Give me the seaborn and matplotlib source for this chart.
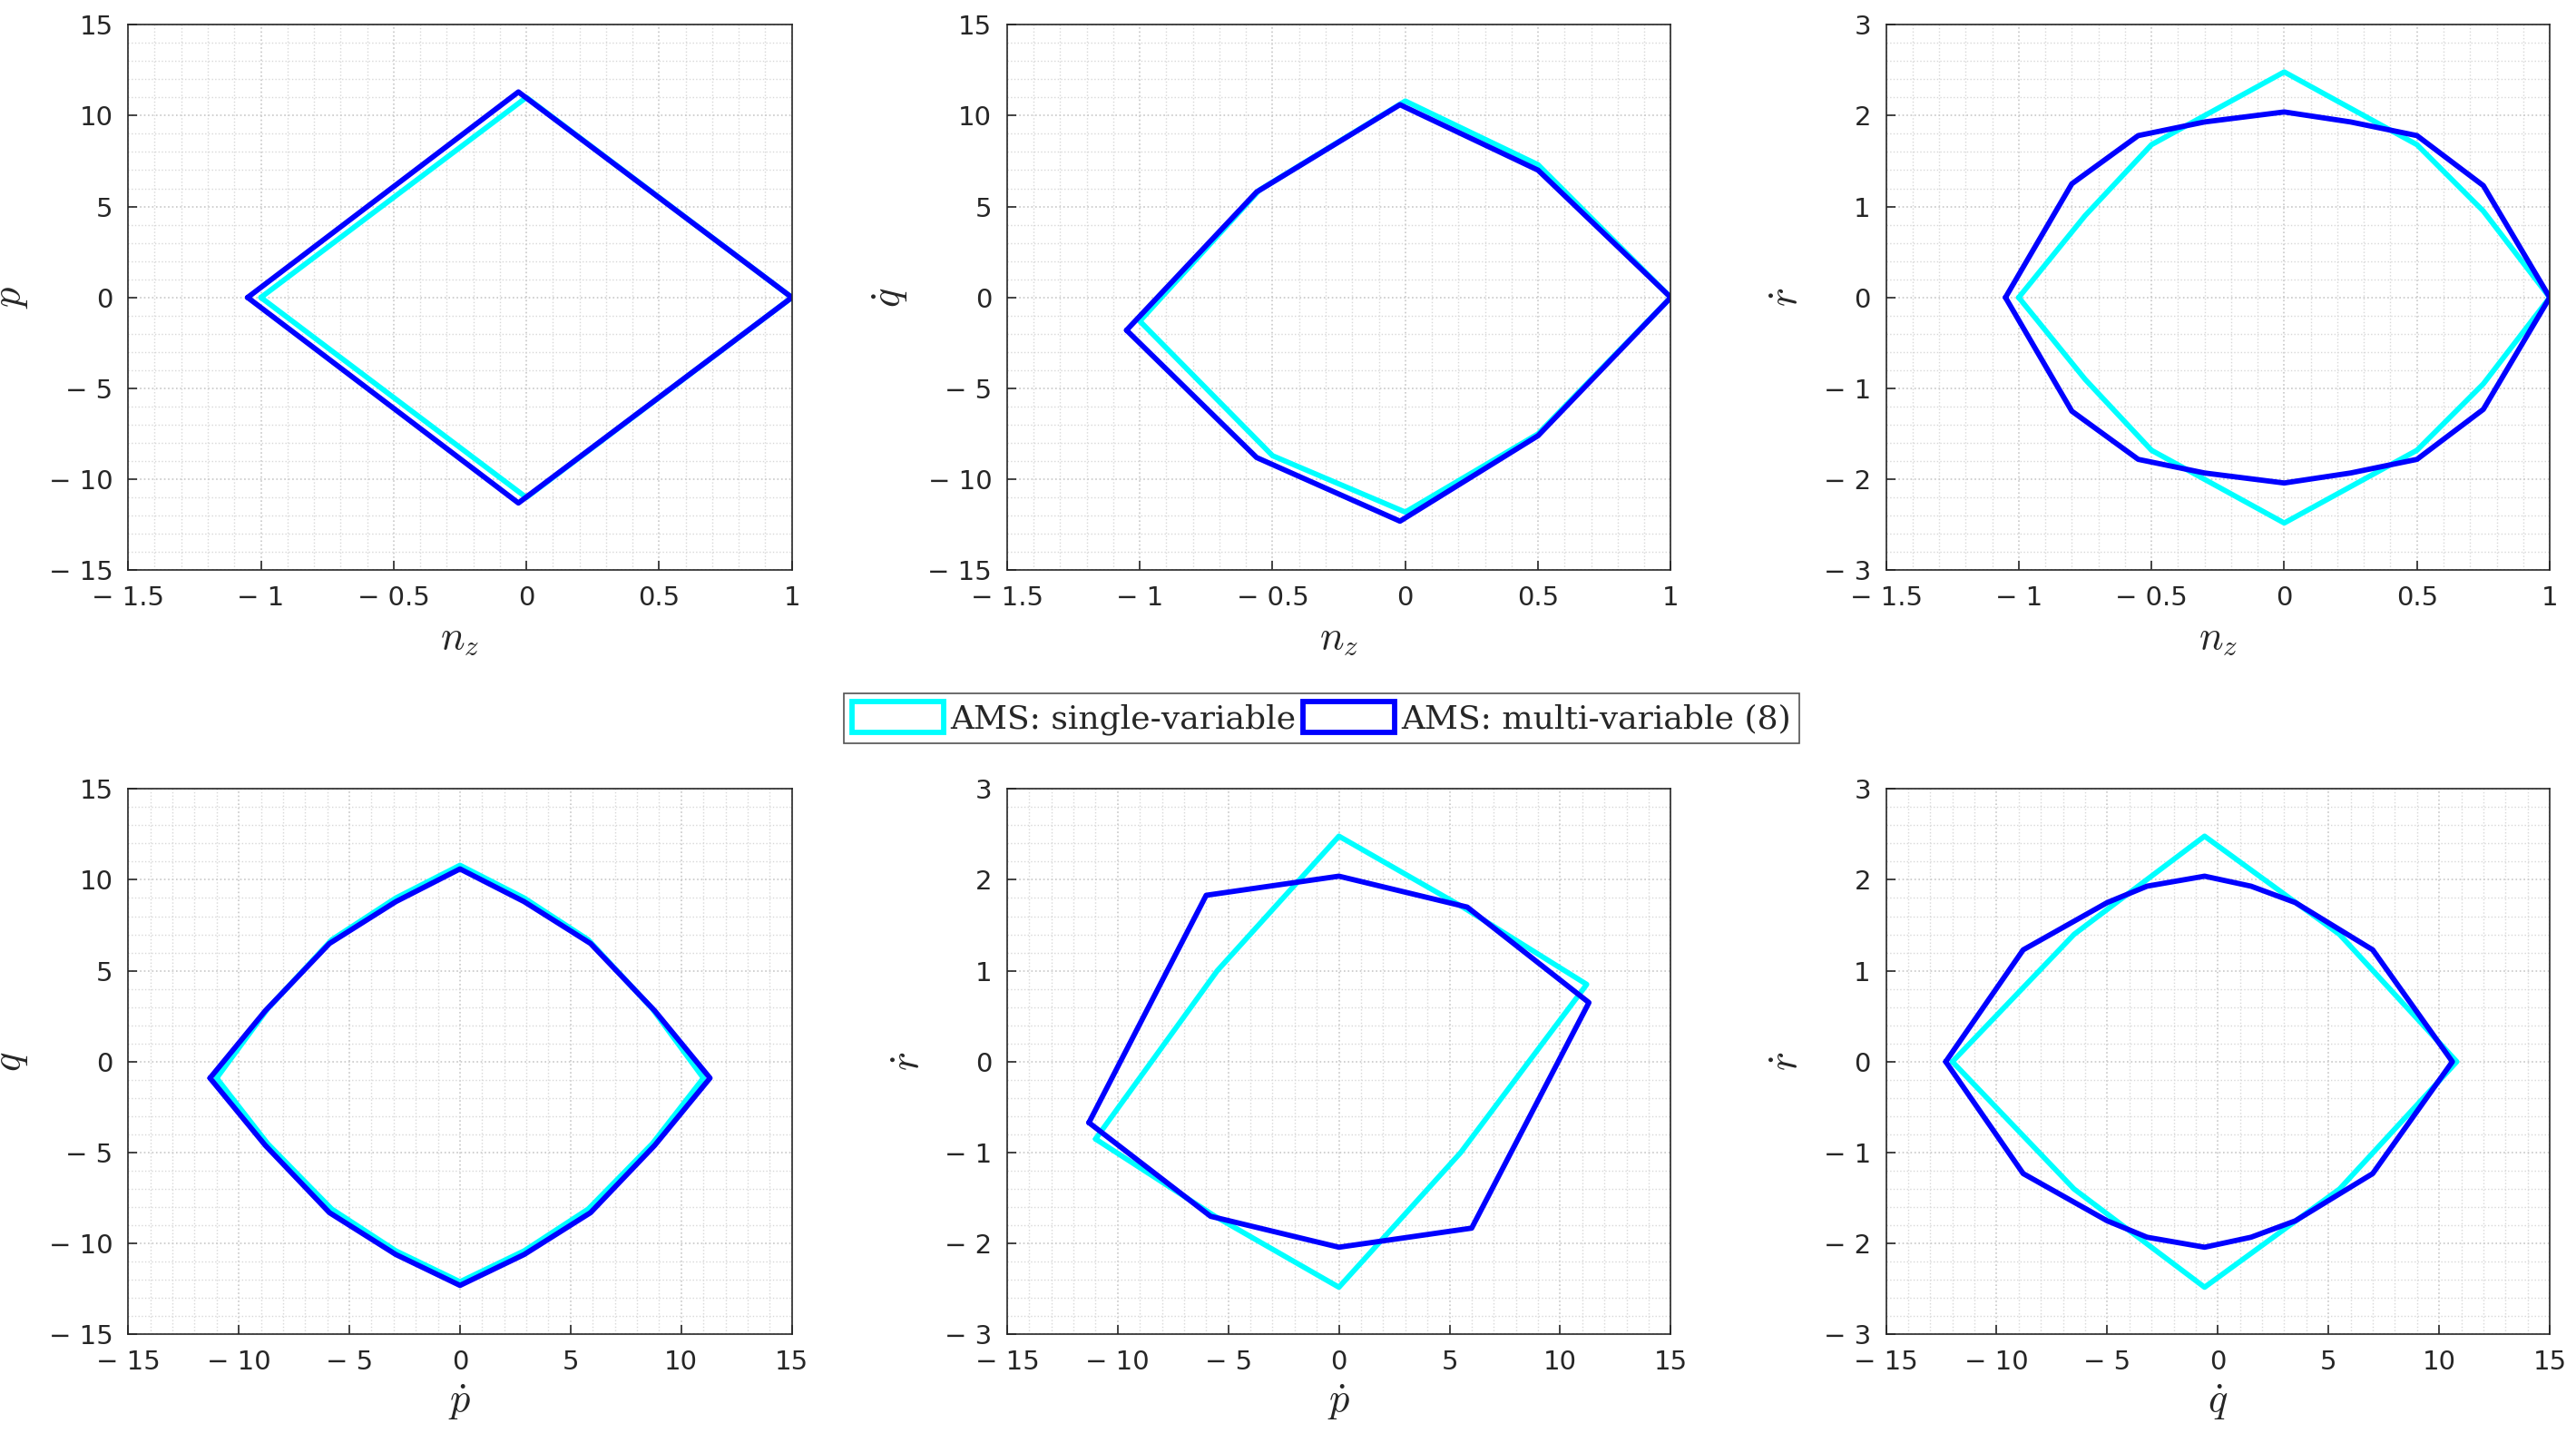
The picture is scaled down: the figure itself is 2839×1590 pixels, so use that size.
import numpy as np
import pandas as pd
import seaborn as sns
import matplotlib
matplotlib.use("Agg")
import matplotlib.pyplot as plt
from matplotlib.patches import Patch
from matplotlib.ticker import MultipleLocator, FuncFormatter

# Data: polygon vertices (x, y) per panel, single-variable vs multi-variable
s1_x = [-1.0, 0.0, 1.0, 0.0]
s1_y = [0.0, 11.0, 0.0, -11.0]
m1_x = [-1.05, -0.03, 1.0, -0.03]
m1_y = [0.0, 11.3, 0.0, -11.3]

s2_x = [-1.0, -0.55, 0.0, 0.5, 1.0, 0.5, 0.0, -0.5]
s2_y = [-1.3, 5.9, 10.8, 7.3, 0.0, -7.5, -11.8, -8.7]
m2_x = [-1.05, -0.56, -0.02, 0.5, 1.0, 0.5, -0.02, -0.56]
m2_y = [-1.8, 5.8, 10.6, 7.0, 0.0, -7.6, -12.3, -8.8]

s3_x = [-1.0, -0.75, -0.5, 0.0, 0.5, 0.75, 1.0, 0.75, 0.5, 0.0, -0.5, -0.75]
s3_y = [0.0, 0.9, 1.68, 2.48, 1.68, 0.95, 0.0, -0.95, -1.68, -2.48, -1.68, -0.9]
m3_x = [-1.05, -0.8, -0.55, -0.3, 0.0, 0.25, 0.5, 0.75, 1.0, 0.75, 0.5, 0.25, 0.0, -0.3, -0.55, -0.8]
m3_y = [0.0, 1.25, 1.78, 1.93, 2.04, 1.93, 1.78, 1.23, 0.0, -1.23, -1.78, -1.93, -2.04, -1.93, -1.78, -1.25]

s4_x = [-11.0, -8.7, -5.8, -2.9, 0.0, 2.9, 5.8, 8.7, 11.0, 8.7, 5.8, 2.9, 0.0, -2.9, -5.8, -8.7]
s4_y = [-0.9, 2.9, 6.7, 9.0, 10.8, 9.0, 6.7, 2.9, -0.9, -4.5, -8.1, -10.4, -12.1, -10.4, -8.1, -4.5]
m4_x = [-11.3, -8.8, -5.9, -2.9, 0.0, 2.9, 5.9, 8.8, 11.3, 8.8, 5.9, 2.9, 0.0, -2.9, -5.9, -8.8]
m4_y = [-0.9, 2.8, 6.5, 8.8, 10.6, 8.8, 6.5, 2.8, -0.9, -4.6, -8.3, -10.6, -12.3, -10.6, -8.3, -4.6]

s5_x = [-11.0, -5.5, 0.0, 5.6, 11.2, 5.5, 0.0, -5.6]
s5_y = [-0.85, 1.0, 2.48, 1.7, 0.85, -1.0, -2.48, -1.7]
m5_x = [-11.3, -6.0, 0.0, 5.8, 11.3, 6.0, 0.0, -5.8]
m5_y = [-0.67, 1.83, 2.04, 1.7, 0.65, -1.83, -2.04, -1.7]

s6_x = [-12.0, -6.5, -0.6, 5.5, 10.8, 5.5, -0.6, -6.5]
s6_y = [0.0, 1.4, 2.48, 1.4, 0.0, -1.4, -2.48, -1.4]
m6_x = [-12.3, -8.8, -5.0, -3.2, -0.6, 1.5, 3.5, 7.0, 10.6, 7.0, 3.5, 1.5, -0.6, -3.2, -5.0, -8.8]
m6_y = [0.0, 1.23, 1.75, 1.93, 2.04, 1.93, 1.75, 1.23, 0.0, -1.23, -1.75, -1.93, -2.04, -1.93, -1.75, -1.23]

xlabels = [r"$n_z$", r"$n_z$", r"$n_z$", r"$\dot{p}$", r"$\dot{p}$", r"$\dot{q}$"]
ylabels = [r"$\dot{p}$", r"$\dot{q}$", r"$\dot{r}$", r"$\dot{q}$", r"$\dot{r}$", r"$\dot{r}$"]
legend_labels = ["AMS: single-variable", "AMS: multi-variable (8)"]

panels = [(s1_x, s1_y, m1_x, m1_y), (s2_x, s2_y, m2_x, m2_y), (s3_x, s3_y, m3_x, m3_y),
          (s4_x, s4_y, m4_x, m4_y), (s5_x, s5_y, m5_x, m5_y), (s6_x, s6_y, m6_x, m6_y)]
xlims = [(-1.5, 1, 0.5, 0.1)] * 3 + [(-15, 15, 5, 1)] * 3
ylims = [(-15, 15, 5, 1), (-15, 15, 5, 1), (-3, 3, 1, 0.2), (-15, 15, 5, 1), (-3, 3, 1, 0.2), (-3, 3, 1, 0.2)]

sns.set_theme(style="white")
plt.rcParams['font.family'] = ['DejaVu Sans']
plt.rcParams['mathtext.fontset'] = 'cm'

cyan = "#00FFFF"
blue = "#0000FF"


def fmt(v, pos):
    s = f"{v:g}"
    if s == "-0":
        s = "0"
    return s.replace("-", "\u2212 ")


fig = plt.figure(figsize=(28.39, 15.9), dpi=100)
axes = []
for i in range(6):
    r, c = divmod(i, 3)
    left = [78, 613, 1148][c] / 1568
    width = 404 / 1568
    top = [15, 480][r] / 878
    height = 332 / 878
    axes.append(fig.add_axes([left, 1 - top - height, width, height]))

for i, ax in enumerate(axes):
    sx, sy, mx, my = panels[i]
    sdf = pd.DataFrame({"x": list(sx) + [sx[0]], "y": list(sy) + [sy[0]]})
    mdf = pd.DataFrame({"x": list(mx) + [mx[0]], "y": list(my) + [my[0]]})
    sns.lineplot(data=sdf, x="x", y="y", sort=False, estimator=None, color=cyan, lw=4.2, ax=ax)
    sns.lineplot(data=mdf, x="x", y="y", sort=False, estimator=None, color=blue, lw=4.2, ax=ax)
    x0, x1, xm, xmi = xlims[i]
    y0, y1, ym, ymi = ylims[i]
    ax.set_xlim(x0, x1)
    ax.set_ylim(y0, y1)
    ax.xaxis.set_major_locator(MultipleLocator(xm))
    ax.xaxis.set_minor_locator(MultipleLocator(xmi))
    ax.yaxis.set_major_locator(MultipleLocator(ym))
    ax.yaxis.set_minor_locator(MultipleLocator(ymi))
    ax.xaxis.set_major_formatter(FuncFormatter(fmt))
    ax.yaxis.set_major_formatter(FuncFormatter(fmt))
    ax.grid(which="major", color="#C8C8C8", lw=1.2, ls=":")
    ax.grid(which="minor", color="#D8D8D8", lw=1.0, ls=":")
    ax.tick_params(which="major", direction="in", length=7, width=1.2, labelsize=21, colors="#262626",
                   top=False, right=False, bottom=True, left=True, pad=12)
    ax.tick_params(which="minor", length=0)
    for s in ax.spines.values():
        s.set_color("#262626")
        s.set_linewidth(1.2)
    ax.set_xlabel(xlabels[i], fontsize=32, labelpad=6)
    ax.set_ylabel(ylabels[i], fontsize=32, labelpad=14)

handles = [Patch(facecolor="white", edgecolor=cyan, lw=4.2), Patch(facecolor="white", edgecolor=blue, lw=4.2)]
fig.legend(handles, legend_labels, loc="center", bbox_to_anchor=(0.513, 1 - 437 / 878), ncol=2,
           frameon=True, fancybox=False, edgecolor="#262626", handlelength=2.8, handleheight=1.1,
           columnspacing=0.2, handletextpad=0.2, borderpad=0.25,
           prop={"family": "DejaVu Serif", "size": 26})
fig.legends[0].get_frame().set_linewidth(1.2)

fig.savefig("out.png", dpi=100, facecolor="white")
